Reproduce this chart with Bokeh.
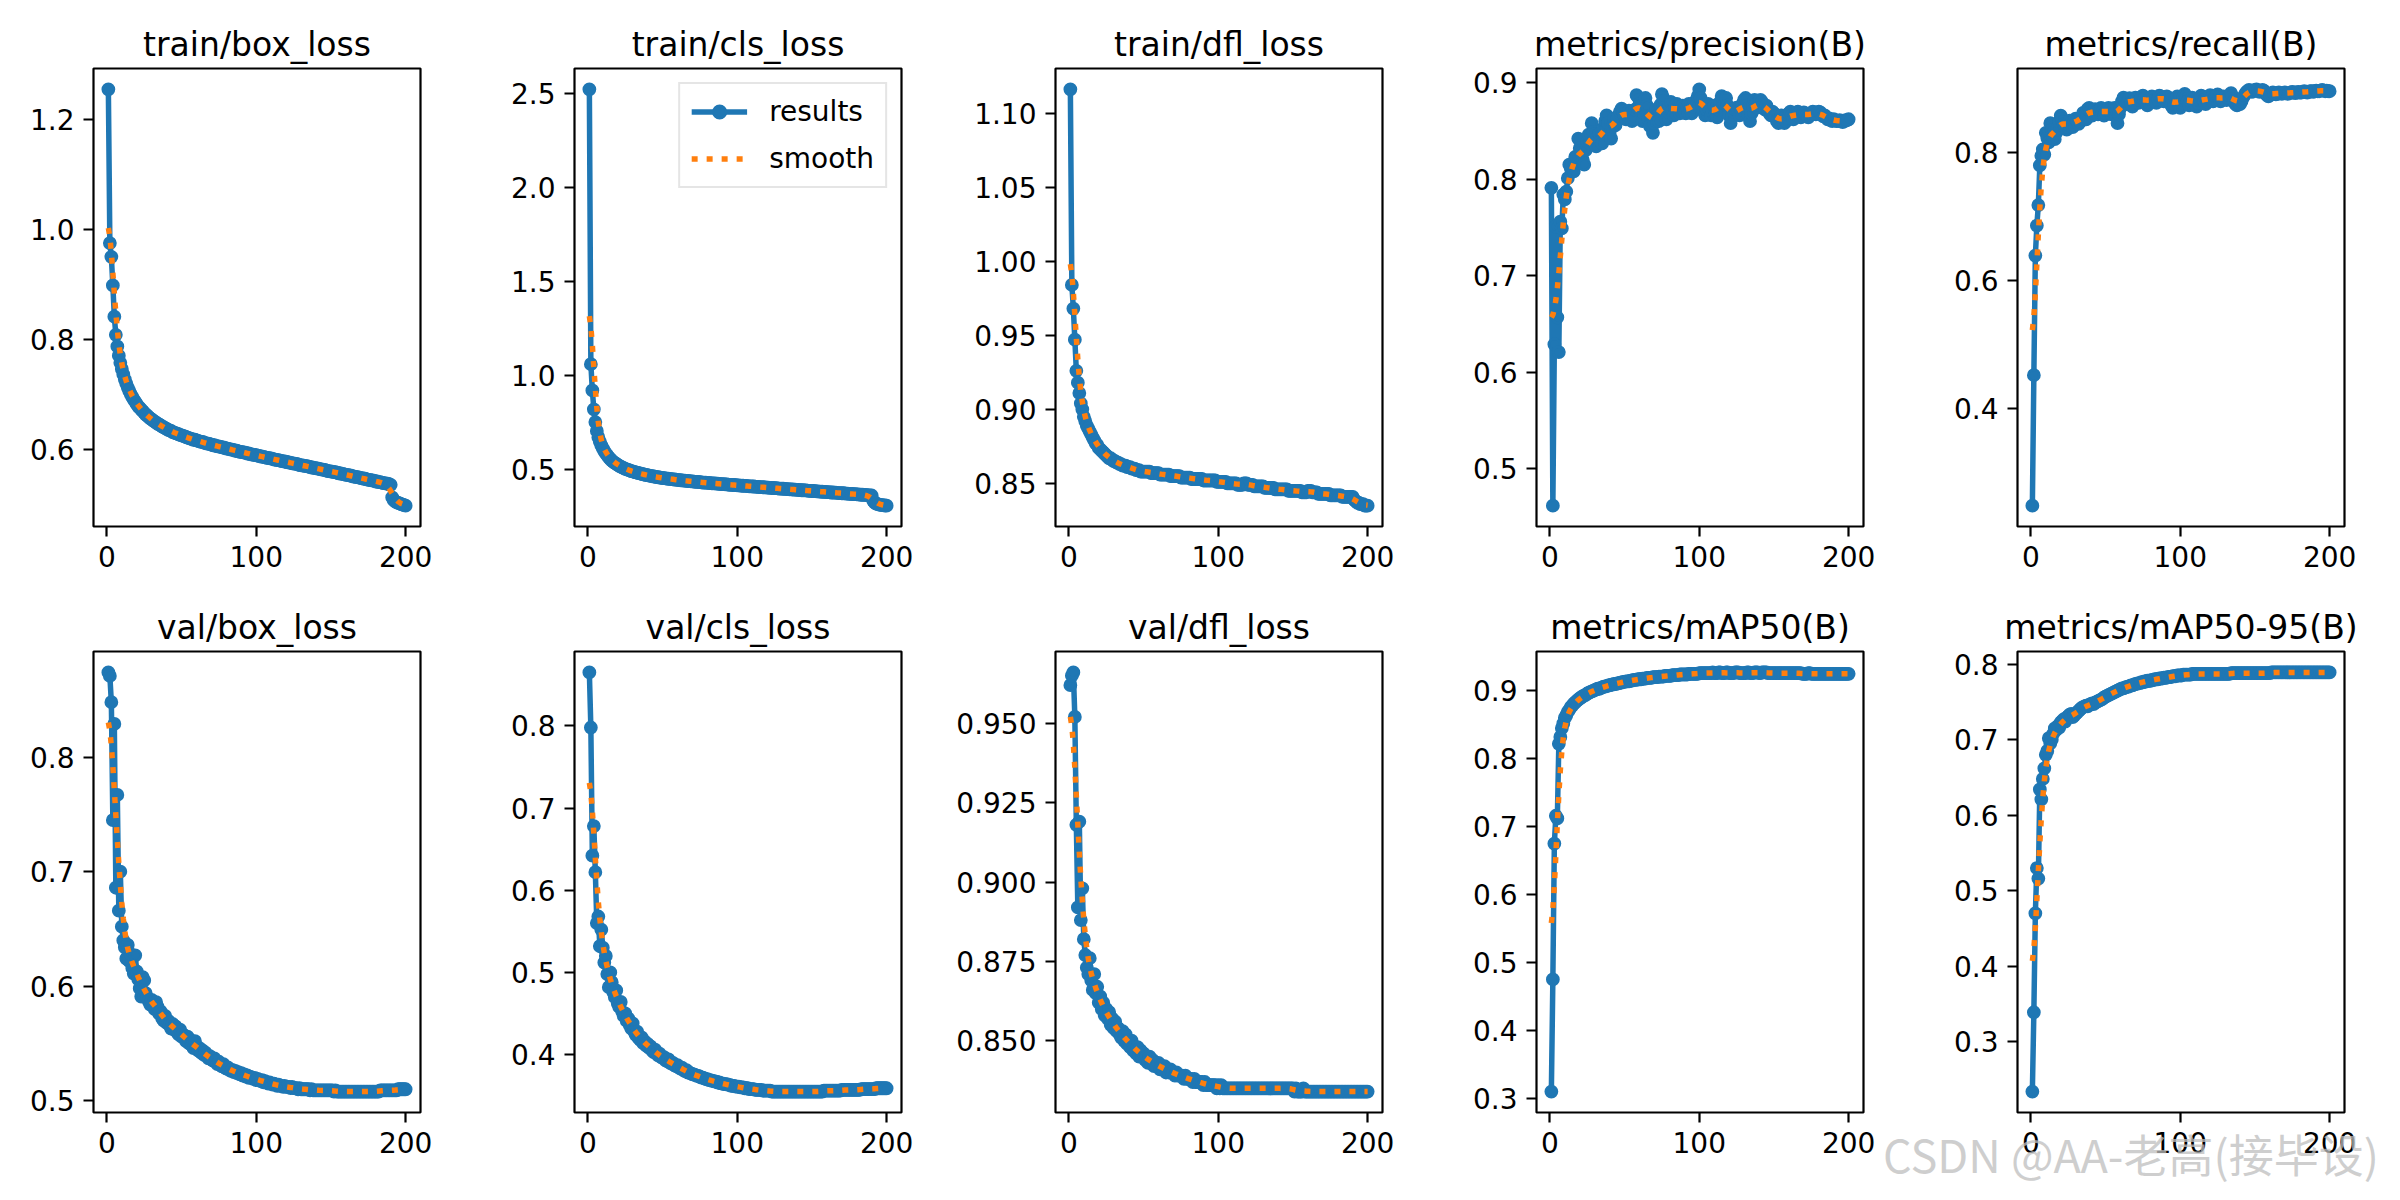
import numpy as np

from bokeh.embed import file_html
from bokeh.resources import INLINE
from bokeh.layouts import row, column
from bokeh.models import Range1d, FixedTicker, Legend, LegendItem, Div
from bokeh.plotting import figure

epochs = list(range(1, 201))

train_box_loss = [
    1.255, 0.975, 0.950, 0.898, 0.841, 0.808, 0.787, 0.770, 0.757, 0.746,
    0.736, 0.727, 0.719, 0.712, 0.706, 0.700, 0.695, 0.690, 0.686, 0.682,
    0.678, 0.675, 0.672, 0.669, 0.666, 0.663, 0.661, 0.658, 0.656, 0.654,
    0.652, 0.650, 0.648, 0.646, 0.645, 0.643, 0.641, 0.640, 0.638, 0.637,
    0.635, 0.634, 0.633, 0.631, 0.630, 0.629, 0.628, 0.627, 0.626, 0.625,
    0.624, 0.623, 0.622, 0.621, 0.620, 0.619, 0.618, 0.617, 0.617, 0.616,
    0.615, 0.614, 0.613, 0.613, 0.612, 0.611, 0.610, 0.610, 0.609, 0.608,
    0.607, 0.607, 0.606, 0.605, 0.605, 0.604, 0.603, 0.603, 0.602, 0.601,
    0.601, 0.600, 0.599, 0.599, 0.598, 0.597, 0.597, 0.596, 0.595, 0.595,
    0.594, 0.594, 0.593, 0.592, 0.592, 0.591, 0.590, 0.590, 0.589, 0.589,
    0.588, 0.587, 0.587, 0.586, 0.586, 0.585, 0.584, 0.584, 0.583, 0.583,
    0.582, 0.581, 0.581, 0.580, 0.580, 0.579, 0.578, 0.578, 0.577, 0.577,
    0.576, 0.576, 0.575, 0.574, 0.574, 0.573, 0.573, 0.572, 0.571, 0.571,
    0.570, 0.570, 0.569, 0.569, 0.568, 0.567, 0.567, 0.566, 0.566, 0.565,
    0.565, 0.564, 0.563, 0.563, 0.562, 0.562, 0.561, 0.560, 0.560, 0.559,
    0.559, 0.558, 0.558, 0.557, 0.556, 0.556, 0.555, 0.555, 0.554, 0.553,
    0.553, 0.552, 0.552, 0.551, 0.550, 0.550, 0.549, 0.549, 0.548, 0.547,
    0.547, 0.546, 0.546, 0.545, 0.544, 0.544, 0.543, 0.543, 0.542, 0.541,
    0.541, 0.540, 0.540, 0.539, 0.538, 0.538, 0.537, 0.537, 0.536, 0.535,
    0.512, 0.507, 0.505, 0.503, 0.502, 0.501, 0.500, 0.499, 0.498, 0.497,
]

train_cls_loss = [
    2.520, 1.060, 0.920, 0.820, 0.752, 0.705, 0.672, 0.648, 0.628, 0.612,
    0.598, 0.586, 0.575, 0.565, 0.556, 0.548, 0.541, 0.535, 0.530, 0.525,
    0.520, 0.516, 0.512, 0.508, 0.504, 0.501, 0.498, 0.495, 0.492, 0.490,
    0.487, 0.485, 0.483, 0.481, 0.479, 0.477, 0.475, 0.473, 0.471, 0.470,
    0.468, 0.466, 0.465, 0.463, 0.462, 0.460, 0.459, 0.458, 0.456, 0.455,
    0.454, 0.453, 0.452, 0.451, 0.450, 0.449, 0.448, 0.447, 0.446, 0.445,
    0.444, 0.443, 0.442, 0.441, 0.441, 0.440, 0.439, 0.438, 0.437, 0.437,
    0.436, 0.435, 0.434, 0.434, 0.433, 0.432, 0.431, 0.431, 0.430, 0.429,
    0.429, 0.428, 0.427, 0.427, 0.426, 0.425, 0.425, 0.424, 0.423, 0.423,
    0.422, 0.421, 0.421, 0.420, 0.419, 0.419, 0.418, 0.418, 0.417, 0.416,
    0.416, 0.415, 0.414, 0.414, 0.413, 0.413, 0.412, 0.411, 0.411, 0.410,
    0.410, 0.409, 0.408, 0.408, 0.407, 0.407, 0.406, 0.405, 0.405, 0.404,
    0.404, 0.403, 0.402, 0.402, 0.401, 0.401, 0.400, 0.399, 0.399, 0.398,
    0.398, 0.397, 0.396, 0.396, 0.395, 0.395, 0.394, 0.393, 0.393, 0.392,
    0.392, 0.391, 0.390, 0.390, 0.389, 0.389, 0.388, 0.387, 0.387, 0.386,
    0.386, 0.385, 0.384, 0.384, 0.383, 0.383, 0.382, 0.381, 0.381, 0.380,
    0.380, 0.379, 0.378, 0.378, 0.377, 0.377, 0.376, 0.375, 0.375, 0.374,
    0.374, 0.373, 0.372, 0.372, 0.371, 0.371, 0.370, 0.369, 0.369, 0.368,
    0.368, 0.367, 0.366, 0.366, 0.365, 0.365, 0.364, 0.363, 0.363, 0.362,
    0.334, 0.324, 0.319, 0.316, 0.314, 0.312, 0.311, 0.310, 0.309, 0.308,
]

train_dfl_loss = [
    1.116, 0.984, 0.968, 0.947, 0.926, 0.918, 0.911, 0.904, 0.900, 0.895,
    0.892, 0.889, 0.887, 0.885, 0.883, 0.881, 0.879, 0.877, 0.876, 0.874,
    0.873, 0.872, 0.871, 0.870, 0.869, 0.868, 0.867, 0.867, 0.866, 0.865,
    0.865, 0.864, 0.864, 0.863, 0.863, 0.862, 0.862, 0.862, 0.861, 0.861,
    0.861, 0.860, 0.860, 0.860, 0.859, 0.859, 0.859, 0.858, 0.858, 0.858,
    0.858, 0.858, 0.858, 0.858, 0.857, 0.857, 0.857, 0.857, 0.857, 0.857,
    0.856, 0.856, 0.856, 0.856, 0.856, 0.856, 0.856, 0.855, 0.855, 0.855,
    0.855, 0.855, 0.855, 0.855, 0.854, 0.854, 0.854, 0.854, 0.854, 0.854,
    0.854, 0.853, 0.853, 0.853, 0.853, 0.853, 0.853, 0.853, 0.853, 0.852,
    0.852, 0.852, 0.852, 0.852, 0.852, 0.852, 0.852, 0.852, 0.851, 0.851,
    0.851, 0.851, 0.851, 0.851, 0.851, 0.850, 0.850, 0.850, 0.850, 0.850,
    0.850, 0.850, 0.849, 0.849, 0.849, 0.849, 0.850, 0.850, 0.850, 0.849,
    0.849, 0.849, 0.849, 0.848, 0.848, 0.848, 0.848, 0.848, 0.848, 0.848,
    0.847, 0.847, 0.847, 0.847, 0.847, 0.847, 0.847, 0.846, 0.846, 0.846,
    0.846, 0.846, 0.846, 0.846, 0.846, 0.846, 0.845, 0.845, 0.845, 0.845,
    0.845, 0.845, 0.845, 0.845, 0.845, 0.844, 0.844, 0.844, 0.844, 0.845,
    0.845, 0.845, 0.844, 0.844, 0.844, 0.844, 0.843, 0.843, 0.843, 0.843,
    0.843, 0.843, 0.843, 0.843, 0.842, 0.842, 0.842, 0.842, 0.842, 0.842,
    0.842, 0.842, 0.841, 0.841, 0.841, 0.841, 0.841, 0.841, 0.841, 0.841,
    0.839, 0.838, 0.837, 0.837, 0.836, 0.836, 0.836, 0.835, 0.835, 0.835,
]

precision = [
    0.791, 0.462, 0.629, 0.751, 0.657, 0.621, 0.756, 0.749, 0.784, 0.779,
    0.787, 0.801, 0.815, 0.811, 0.816, 0.808, 0.823, 0.823, 0.842, 0.832,
    0.827, 0.820, 0.815, 0.830, 0.839, 0.846, 0.837, 0.858, 0.849, 0.837,
    0.834, 0.844, 0.847, 0.839, 0.837, 0.853, 0.860, 0.866, 0.858, 0.847,
    0.842, 0.854, 0.863, 0.856, 0.861, 0.866, 0.870, 0.873, 0.870, 0.865,
    0.862, 0.866, 0.871, 0.868, 0.860, 0.863, 0.872, 0.887, 0.885, 0.878,
    0.870, 0.860, 0.868, 0.884, 0.876, 0.862, 0.855, 0.866, 0.848, 0.858,
    0.872, 0.866, 0.860, 0.877, 0.888, 0.884, 0.874, 0.862, 0.870, 0.877,
    0.880, 0.871, 0.866, 0.875, 0.878, 0.873, 0.868, 0.872, 0.876, 0.870,
    0.868, 0.874, 0.878, 0.872, 0.868, 0.875, 0.880, 0.876, 0.886, 0.893,
    0.884, 0.876, 0.870, 0.866, 0.872, 0.878, 0.872, 0.866, 0.870, 0.876,
    0.868, 0.864, 0.872, 0.880, 0.886, 0.884, 0.878, 0.884, 0.876, 0.866,
    0.858, 0.864, 0.870, 0.872, 0.874, 0.870, 0.866, 0.872, 0.878, 0.882,
    0.884, 0.876, 0.866, 0.860, 0.868, 0.876, 0.882, 0.878, 0.874, 0.880,
    0.882, 0.880, 0.876, 0.872, 0.876, 0.872, 0.868, 0.866, 0.870, 0.868,
    0.864, 0.860, 0.858, 0.862, 0.866, 0.862, 0.858, 0.860, 0.864, 0.868,
    0.870, 0.866, 0.862, 0.864, 0.868, 0.870, 0.868, 0.864, 0.866, 0.869,
    0.868, 0.866, 0.864, 0.866, 0.868, 0.870, 0.869, 0.867, 0.868, 0.870,
    0.869, 0.867, 0.865, 0.866, 0.864, 0.862, 0.863, 0.861, 0.860, 0.862,
    0.861, 0.860, 0.860, 0.861, 0.860, 0.859, 0.860, 0.861, 0.861, 0.862,
]

recall = [
    0.248, 0.452, 0.639, 0.686, 0.718, 0.780, 0.795, 0.805, 0.797, 0.831,
    0.823, 0.816, 0.846, 0.835, 0.823, 0.821, 0.831, 0.839, 0.849, 0.858,
    0.852, 0.844, 0.842, 0.836, 0.844, 0.850, 0.846, 0.840, 0.848, 0.853,
    0.850, 0.845, 0.848, 0.856, 0.862, 0.858, 0.852, 0.868, 0.870, 0.864,
    0.858, 0.862, 0.868, 0.864, 0.860, 0.866, 0.870, 0.864, 0.858, 0.862,
    0.866, 0.870, 0.866, 0.860, 0.864, 0.870, 0.858, 0.846, 0.860, 0.870,
    0.880, 0.886, 0.882, 0.876, 0.880, 0.885, 0.878, 0.872, 0.880, 0.886,
    0.884, 0.878, 0.882, 0.887, 0.889, 0.884, 0.878, 0.874, 0.880, 0.884,
    0.888, 0.886, 0.882, 0.878, 0.884, 0.889, 0.888, 0.884, 0.880, 0.884,
    0.888, 0.886, 0.880, 0.874, 0.870, 0.876, 0.884, 0.888, 0.876, 0.870,
    0.878, 0.886, 0.892, 0.888, 0.880, 0.874, 0.880, 0.886, 0.884, 0.876,
    0.872, 0.878, 0.884, 0.889, 0.886, 0.880, 0.876, 0.882, 0.888, 0.890,
    0.886, 0.880, 0.884, 0.889, 0.891, 0.886, 0.880, 0.884, 0.888, 0.886,
    0.882, 0.886, 0.890, 0.893, 0.888, 0.880, 0.876, 0.874, 0.878, 0.876,
    0.880, 0.886, 0.890, 0.894, 0.896, 0.898, 0.897, 0.895, 0.896, 0.898,
    0.899, 0.897, 0.895, 0.896, 0.898, 0.897, 0.893, 0.890, 0.888, 0.890,
    0.892, 0.894, 0.893, 0.891, 0.892, 0.894, 0.893, 0.892, 0.893, 0.894,
    0.893, 0.892, 0.893, 0.894, 0.895, 0.894, 0.893, 0.894, 0.895, 0.894,
    0.894, 0.895, 0.896, 0.895, 0.894, 0.895, 0.896, 0.896, 0.895, 0.896,
    0.897, 0.896, 0.896, 0.897, 0.898, 0.897, 0.896, 0.897, 0.896, 0.896,
]

val_box_loss = [
    0.874, 0.871, 0.848, 0.745, 0.829, 0.686, 0.767, 0.666, 0.700, 0.652,
    0.640, 0.634, 0.624, 0.636, 0.622, 0.628, 0.616, 0.611, 0.627, 0.613,
    0.606, 0.598, 0.591, 0.608, 0.605, 0.594, 0.590, 0.587, 0.584, 0.588,
    0.585, 0.580, 0.586, 0.582, 0.576, 0.578, 0.572, 0.570, 0.574, 0.568,
    0.570, 0.566, 0.563, 0.567, 0.562, 0.565, 0.560, 0.558, 0.562, 0.556,
    0.558, 0.555, 0.552, 0.556, 0.550, 0.553, 0.548, 0.546, 0.552, 0.547,
    0.544, 0.546, 0.542, 0.544, 0.540, 0.542, 0.539, 0.537, 0.539, 0.536,
    0.535, 0.537, 0.534, 0.532, 0.534, 0.531, 0.530, 0.532, 0.529, 0.528,
    0.529, 0.527, 0.526, 0.527, 0.525, 0.526, 0.524, 0.525, 0.523, 0.524,
    0.522, 0.523, 0.521, 0.522, 0.520, 0.521, 0.520, 0.519, 0.520, 0.518,
    0.519, 0.518, 0.517, 0.518, 0.516, 0.517, 0.516, 0.515, 0.516, 0.515,
    0.514, 0.515, 0.514, 0.513, 0.514, 0.513, 0.513, 0.512, 0.513, 0.512,
    0.512, 0.512, 0.511, 0.512, 0.511, 0.511, 0.511, 0.510, 0.511, 0.510,
    0.510, 0.510, 0.510, 0.510, 0.510, 0.509, 0.510, 0.509, 0.509, 0.509,
    0.509, 0.509, 0.509, 0.509, 0.509, 0.509, 0.509, 0.509, 0.509, 0.509,
    0.509, 0.508, 0.509, 0.508, 0.508, 0.508, 0.508, 0.508, 0.508, 0.508,
    0.508, 0.508, 0.508, 0.508, 0.508, 0.508, 0.508, 0.508, 0.508, 0.508,
    0.508, 0.508, 0.508, 0.508, 0.508, 0.508, 0.508, 0.508, 0.508, 0.508,
    0.508, 0.508, 0.509, 0.509, 0.509, 0.509, 0.509, 0.509, 0.509, 0.509,
    0.509, 0.509, 0.509, 0.509, 0.510, 0.510, 0.510, 0.510, 0.510, 0.510,
]

val_cls_loss = [
    0.865, 0.798, 0.642, 0.678, 0.622, 0.560, 0.568, 0.532, 0.552, 0.530,
    0.512, 0.520, 0.498, 0.482, 0.500, 0.488, 0.476, 0.470, 0.478, 0.462,
    0.458, 0.464, 0.452, 0.447, 0.450, 0.441, 0.444, 0.436, 0.432, 0.438,
    0.428, 0.424, 0.428, 0.420, 0.418, 0.421, 0.414, 0.416, 0.411, 0.413,
    0.408, 0.410, 0.405, 0.403, 0.406, 0.401, 0.399, 0.401, 0.397, 0.396,
    0.397, 0.393, 0.392, 0.394, 0.390, 0.389, 0.390, 0.387, 0.386, 0.387,
    0.384, 0.383, 0.384, 0.381, 0.380, 0.381, 0.378, 0.378, 0.377, 0.376,
    0.376, 0.375, 0.374, 0.374, 0.373, 0.372, 0.372, 0.371, 0.370, 0.370,
    0.369, 0.369, 0.368, 0.368, 0.367, 0.367, 0.366, 0.366, 0.365, 0.365,
    0.364, 0.364, 0.364, 0.363, 0.363, 0.362, 0.362, 0.362, 0.361, 0.361,
    0.361, 0.360, 0.360, 0.360, 0.359, 0.359, 0.359, 0.358, 0.358, 0.358,
    0.358, 0.357, 0.357, 0.357, 0.357, 0.357, 0.356, 0.356, 0.356, 0.356,
    0.356, 0.356, 0.355, 0.355, 0.355, 0.355, 0.355, 0.355, 0.355, 0.355,
    0.355, 0.355, 0.355, 0.355, 0.355, 0.355, 0.355, 0.355, 0.355, 0.355,
    0.355, 0.355, 0.355, 0.355, 0.355, 0.355, 0.355, 0.355, 0.355, 0.355,
    0.355, 0.355, 0.355, 0.355, 0.355, 0.355, 0.355, 0.356, 0.356, 0.356,
    0.356, 0.356, 0.356, 0.356, 0.356, 0.356, 0.356, 0.356, 0.356, 0.357,
    0.357, 0.357, 0.357, 0.357, 0.357, 0.357, 0.357, 0.357, 0.357, 0.357,
    0.357, 0.357, 0.358, 0.358, 0.358, 0.358, 0.358, 0.358, 0.358, 0.358,
    0.358, 0.358, 0.359, 0.359, 0.359, 0.359, 0.359, 0.359, 0.359, 0.359,
]

val_dfl_loss = [
    0.962, 0.965, 0.966, 0.952, 0.918, 0.892, 0.919, 0.888, 0.898, 0.882,
    0.877, 0.873, 0.871, 0.876, 0.869, 0.866, 0.871, 0.865, 0.867, 0.862,
    0.864, 0.860, 0.862, 0.858, 0.860, 0.857, 0.859, 0.855, 0.857, 0.854,
    0.856, 0.853, 0.854, 0.852, 0.851, 0.853, 0.850, 0.852, 0.849, 0.850,
    0.848, 0.850, 0.847, 0.848, 0.846, 0.848, 0.845, 0.847, 0.845, 0.846,
    0.844, 0.845, 0.843, 0.845, 0.843, 0.844, 0.842, 0.843, 0.842, 0.843,
    0.841, 0.842, 0.841, 0.842, 0.840, 0.841, 0.840, 0.841, 0.840, 0.840,
    0.839, 0.840, 0.839, 0.839, 0.839, 0.839, 0.838, 0.839, 0.838, 0.838,
    0.838, 0.838, 0.837, 0.838, 0.837, 0.837, 0.837, 0.837, 0.837, 0.836,
    0.837, 0.836, 0.836, 0.836, 0.836, 0.836, 0.836, 0.836, 0.835, 0.836,
    0.835, 0.836, 0.835, 0.835, 0.835, 0.835, 0.835, 0.835, 0.835, 0.835,
    0.835, 0.835, 0.835, 0.835, 0.835, 0.835, 0.835, 0.835, 0.835, 0.835,
    0.835, 0.835, 0.835, 0.835, 0.835, 0.835, 0.835, 0.835, 0.835, 0.835,
    0.835, 0.835, 0.835, 0.835, 0.835, 0.835, 0.835, 0.835, 0.835, 0.835,
    0.835, 0.835, 0.835, 0.835, 0.835, 0.835, 0.835, 0.835, 0.835, 0.835,
    0.834, 0.835, 0.834, 0.834, 0.834, 0.834, 0.835, 0.834, 0.834, 0.834,
    0.834, 0.834, 0.834, 0.834, 0.834, 0.834, 0.834, 0.834, 0.834, 0.834,
    0.834, 0.834, 0.834, 0.834, 0.834, 0.834, 0.834, 0.834, 0.834, 0.834,
    0.834, 0.834, 0.834, 0.834, 0.834, 0.834, 0.834, 0.834, 0.834, 0.834,
    0.834, 0.834, 0.834, 0.834, 0.834, 0.834, 0.834, 0.834, 0.834, 0.834,
]

map50 = [
    0.310, 0.475, 0.675, 0.716, 0.712, 0.822, 0.832, 0.845, 0.852, 0.860,
    0.864, 0.869, 0.872, 0.876, 0.878, 0.881, 0.883, 0.885, 0.887, 0.889,
    0.890, 0.892, 0.893, 0.894, 0.896, 0.897, 0.898, 0.899, 0.900, 0.901,
    0.902, 0.903, 0.903, 0.904, 0.905, 0.906, 0.906, 0.907, 0.908, 0.908,
    0.909, 0.909, 0.910, 0.910, 0.911, 0.911, 0.912, 0.912, 0.913, 0.913,
    0.914, 0.914, 0.914, 0.915, 0.915, 0.916, 0.916, 0.916, 0.917, 0.917,
    0.917, 0.918, 0.918, 0.918, 0.919, 0.919, 0.919, 0.919, 0.920, 0.920,
    0.920, 0.920, 0.921, 0.921, 0.921, 0.921, 0.922, 0.922, 0.922, 0.922,
    0.922, 0.923, 0.923, 0.923, 0.923, 0.923, 0.924, 0.924, 0.924, 0.924,
    0.924, 0.924, 0.925, 0.925, 0.925, 0.925, 0.925, 0.925, 0.925, 0.926,
    0.926, 0.926, 0.926, 0.926, 0.926, 0.926, 0.926, 0.926, 0.927, 0.926,
    0.926, 0.926, 0.927, 0.927, 0.926, 0.926, 0.926, 0.927, 0.927, 0.926,
    0.926, 0.926, 0.926, 0.927, 0.927, 0.927, 0.926, 0.926, 0.926, 0.926,
    0.926, 0.927, 0.927, 0.926, 0.926, 0.926, 0.927, 0.927, 0.927, 0.926,
    0.926, 0.927, 0.927, 0.927, 0.927, 0.926, 0.926, 0.926, 0.926, 0.926,
    0.926, 0.926, 0.926, 0.926, 0.926, 0.926, 0.926, 0.926, 0.926, 0.926,
    0.926, 0.926, 0.926, 0.926, 0.926, 0.926, 0.926, 0.926, 0.925, 0.925,
    0.925, 0.925, 0.926, 0.926, 0.925, 0.925, 0.925, 0.925, 0.925, 0.925,
    0.925, 0.925, 0.925, 0.925, 0.925, 0.925, 0.925, 0.925, 0.925, 0.925,
    0.925, 0.925, 0.925, 0.925, 0.925, 0.925, 0.925, 0.925, 0.925, 0.925,
]

map50_95 = [
    0.234, 0.339, 0.470, 0.530, 0.516, 0.634, 0.621, 0.648, 0.662, 0.680,
    0.685, 0.702, 0.695, 0.700, 0.708, 0.715, 0.713, 0.718, 0.716, 0.723,
    0.725, 0.727, 0.724, 0.729, 0.731, 0.733, 0.734, 0.730, 0.732, 0.734,
    0.736, 0.738, 0.740, 0.742, 0.743, 0.744, 0.745, 0.744, 0.746, 0.747,
    0.748, 0.747, 0.749, 0.750, 0.751, 0.752, 0.753, 0.754, 0.756, 0.757,
    0.758, 0.759, 0.760, 0.761, 0.762, 0.763, 0.764, 0.765, 0.766, 0.767,
    0.768, 0.768, 0.769, 0.770, 0.770, 0.771, 0.772, 0.772, 0.773, 0.774,
    0.774, 0.775, 0.775, 0.776, 0.776, 0.777, 0.777, 0.778, 0.778, 0.778,
    0.779, 0.779, 0.780, 0.780, 0.780, 0.781, 0.781, 0.781, 0.782, 0.782,
    0.782, 0.783, 0.783, 0.783, 0.784, 0.784, 0.784, 0.785, 0.785, 0.785,
    0.785, 0.786, 0.786, 0.786, 0.786, 0.786, 0.786, 0.787, 0.787, 0.787,
    0.787, 0.787, 0.787, 0.787, 0.787, 0.787, 0.787, 0.787, 0.787, 0.787,
    0.787, 0.787, 0.787, 0.787, 0.787, 0.787, 0.787, 0.787, 0.787, 0.787,
    0.787, 0.787, 0.787, 0.788, 0.788, 0.788, 0.788, 0.788, 0.788, 0.788,
    0.788, 0.788, 0.788, 0.788, 0.788, 0.788, 0.788, 0.788, 0.788, 0.788,
    0.788, 0.788, 0.788, 0.788, 0.788, 0.788, 0.788, 0.788, 0.788, 0.788,
    0.789, 0.789, 0.789, 0.789, 0.789, 0.789, 0.789, 0.789, 0.789, 0.789,
    0.789, 0.789, 0.789, 0.789, 0.789, 0.789, 0.789, 0.789, 0.789, 0.789,
    0.789, 0.789, 0.789, 0.789, 0.789, 0.789, 0.789, 0.789, 0.789, 0.789,
    0.789, 0.789, 0.789, 0.789, 0.789, 0.789, 0.789, 0.789, 0.789, 0.789,
]

titles = [
    "train/box_loss", "train/cls_loss", "train/dfl_loss", "metrics/precision(B)", "metrics/recall(B)",
    "val/box_loss", "val/cls_loss", "val/dfl_loss", "metrics/mAP50(B)", "metrics/mAP50-95(B)",
]
series = [
    train_box_loss, train_cls_loss, train_dfl_loss, precision, recall,
    val_box_loss, val_cls_loss, val_dfl_loss, map50, map50_95,
]
x_ticks = [0, 100, 200]
y_ticks = [
    [0.6, 0.8, 1.0, 1.2],
    [0.5, 1.0, 1.5, 2.0, 2.5],
    [0.85, 0.90, 0.95, 1.00, 1.05, 1.10],
    [0.5, 0.6, 0.7, 0.8, 0.9],
    [0.4, 0.6, 0.8],
    [0.5, 0.6, 0.7, 0.8],
    [0.4, 0.5, 0.6, 0.7, 0.8],
    [0.850, 0.875, 0.900, 0.925, 0.950],
    [0.3, 0.4, 0.5, 0.6, 0.7, 0.8, 0.9],
    [0.3, 0.4, 0.5, 0.6, 0.7, 0.8],
]
y_decimals = [1, 1, 2, 1, 1, 1, 1, 3, 1, 1]
watermark = "CSDN @AA-老高(接毕设)"

BLUE = "#1f77b4"
ORANGE = "#ff7f0e"
FONT = "DejaVu Sans"


def smooth(y, sigma=3):
    # same as scipy gaussian_filter1d(y, 3), reflect mode
    r = int(4 * sigma + 0.5)
    k = np.exp(-0.5 * (np.arange(-r, r + 1) / sigma) ** 2)
    k /= k.sum()
    yp = np.pad(np.asarray(y, dtype=float), r, mode="symmetric")
    return np.convolve(yp, k, mode="valid")


def panel(i):
    col, rw = i % 5, i // 5
    y = np.asarray(series[i], dtype=float)
    lo, hi = y.min(), y.max()
    pad = 0.05 * (hi - lo)
    xpad = 0.05 * (epochs[-1] - epochs[0])

    left = 93 if col == 0 else 140
    right = 40 if col == 4 else 14
    top = 68 if rw == 0 else 70
    bottom = 55 if rw == 0 else 66
    fh = 458 if rw == 0 else 461

    p = figure(frame_width=327, frame_height=fh,
               min_border_left=left, min_border_right=right,
               min_border_top=top, min_border_bottom=bottom,
               x_range=Range1d(epochs[0] - xpad, epochs[-1] + xpad),
               y_range=Range1d(lo - pad, hi + pad),
               output_backend="svg", toolbar_location=None)
    p.grid.visible = False
    p.background_fill_color = "white"
    p.border_fill_color = "white"
    p.outline_line_color = "black"
    p.outline_line_width = 2.2
    p.outline_line_alpha = 1.0

    p.title.text = titles[i]
    p.title.align = "center"
    p.title.text_font = FONT
    p.title.text_font_size = "33px"
    p.title.text_font_style = "normal"
    p.title.text_color = "black"
    p.title.standoff = 9

    for ax in (p.xaxis[0], p.yaxis[0]):
        ax.axis_line_color = None
        ax.major_tick_in = 0
        ax.major_tick_out = 10
        ax.major_tick_line_width = 2.2
        ax.major_tick_line_color = "black"
        ax.minor_tick_in = 0
        ax.minor_tick_out = 0
        ax.major_label_standoff = 9
        ax.major_label_text_font = FONT
        ax.major_label_text_font_size = "28px"
        ax.major_label_text_color = "black"
    p.xaxis.ticker = FixedTicker(ticks=x_ticks)
    p.yaxis.ticker = FixedTicker(ticks=y_ticks[i])
    d = y_decimals[i]
    p.yaxis.major_label_overrides = {t: f"{t:.{d}f}" for t in y_ticks[i]}

    res_line = p.line(epochs, y, line_color=BLUE, line_width=5.5)
    res_dots = p.scatter(epochs, y, size=11, fill_color=BLUE, line_color=BLUE, line_width=2.8)
    sm_line = p.line(epochs, smooth(y), line_color=ORANGE, line_width=5.5,
                     line_dash="6 9", line_cap="butt")

    if i == 1:
        legend = Legend(items=[LegendItem(label="results", renderers=[res_line, res_dots]),
                               LegendItem(label="smooth", renderers=[sm_line])],
                        location="top_right")
        legend.margin = 14
        legend.padding = 11
        legend.spacing = 14
        legend.glyph_width = 56
        legend.glyph_height = 31
        legend.label_height = 31
        legend.label_standoff = 22
        legend.label_text_font = FONT
        legend.label_text_font_size = "28px"
        legend.label_text_color = "black"
        legend.border_line_color = "#cccccc"
        legend.border_line_width = 2.2
        legend.background_fill_alpha = 0.8
        p.add_layout(legend)
    return p


figs = [panel(i) for i in range(10)]

# watermark laid over the bottom-right corner, out of the layout flow
mark = Div(text=watermark, width=510, height=50,
           styles={"position": "absolute", "left": "1878px", "top": "1124px",
                   "font-family": "Noto Sans CJK SC", "font-size": "45px",
                   "line-height": "50px", "color": "rgba(190,190,190,0.75)",
                   "white-space": "nowrap", "pointer-events": "none", "z-index": "10"})

p = column(row(*figs[:5]), row(*figs[5:]), mark)

open("out.html", "w").write(file_html(p, INLINE))
